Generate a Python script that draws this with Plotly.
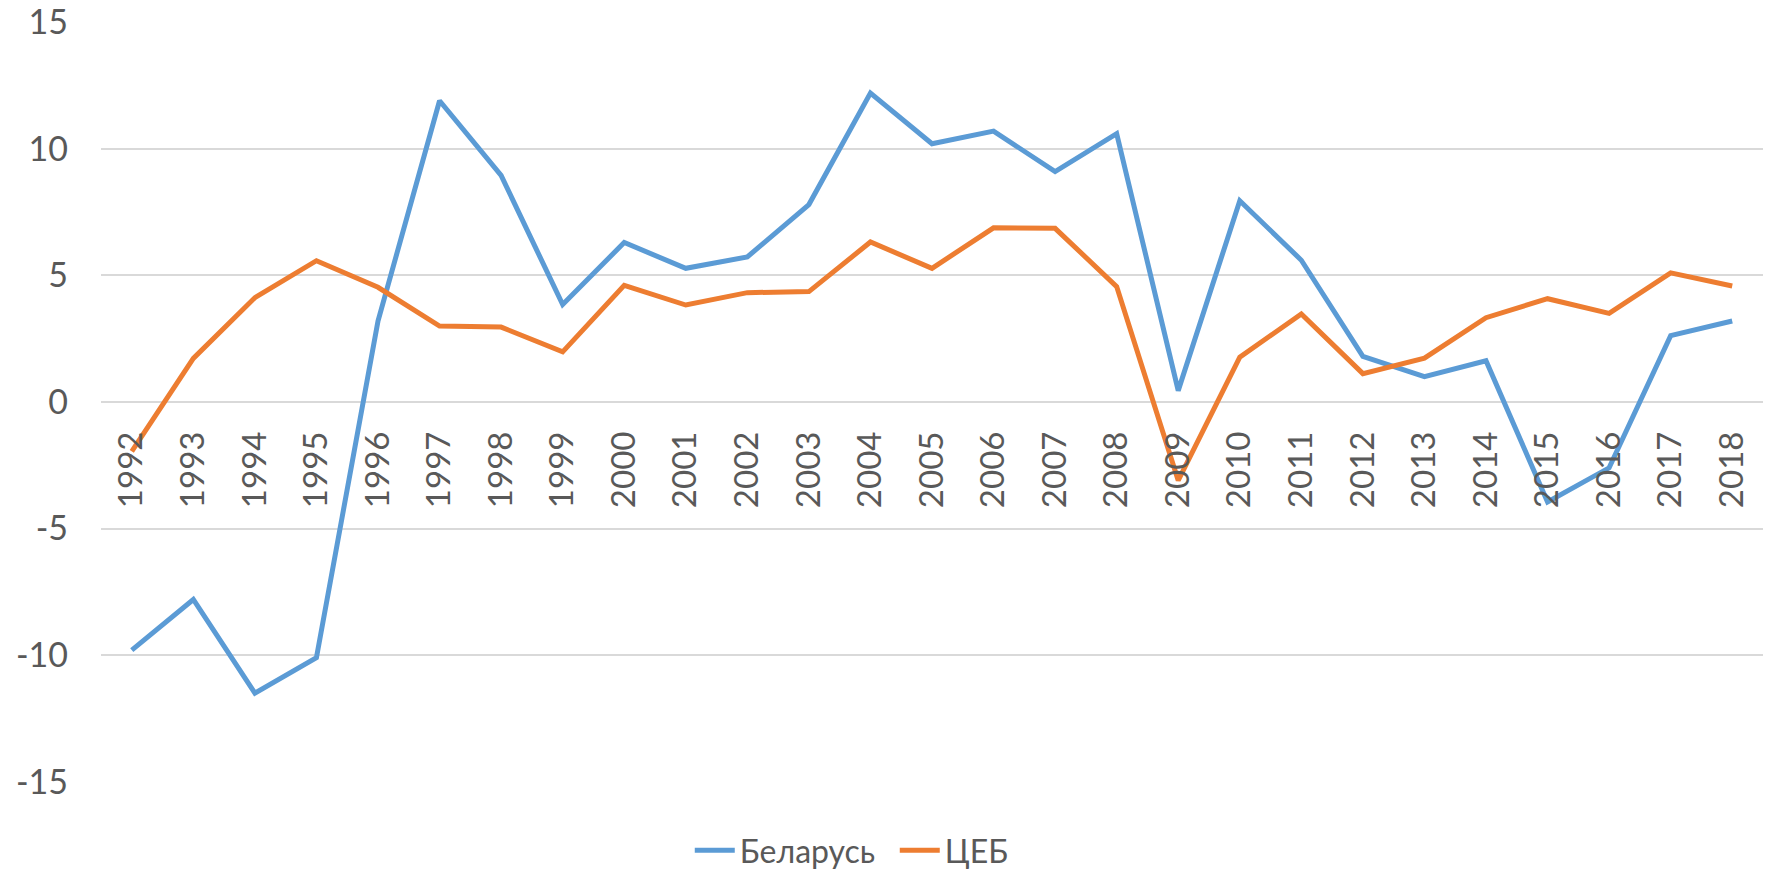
import plotly.graph_objects as go

years = [str(y) for y in range(1992, 2019)]
belarus = [-9.8, -7.8, -11.5, -10.1, 3.2, 11.9, 8.95, 3.85, 6.3, 5.28, 5.73, 7.8,
           12.2, 10.2, 10.7, 9.1, 10.6, 0.45, 7.95, 5.6, 1.8, 1.0, 1.63, -3.95, -2.6, 2.62, 3.2]
ceb = [-1.95, 1.72, 4.12, 5.58, 4.53, 3.0, 2.96, 1.98, 4.61, 3.83, 4.32, 4.36,
       6.32, 5.28, 6.88, 6.86, 4.56, -3.1, 1.77, 3.48, 1.12, 1.73, 3.33, 4.08, 3.5, 5.1, 4.58]

names = ["Беларусь", "ЦЕБ"]
colors = ["#5B9BD5", "#ED7D31"]
y_min, y_max = -15, 15
y_ticks = [-15, -10, -5, 0, 5, 10, 15]
y_ticktext = [str(v) for v in y_ticks]

FONT = "Lato, 'Noto Sans', sans-serif"
TXT = "#595959"
GRID = "#D9D9D9"

fig = go.Figure()
for name, vals, col in zip(names, [belarus, ceb], colors):
    fig.add_trace(go.Scatter(x=years, y=vals, name=name, mode="lines",
                             line=dict(color=col, width=5)))

fig.update_layout(
    width=1770, height=872,
    paper_bgcolor="white", plot_bgcolor="white",
    margin=dict(l=101, r=7, t=22, b=90, autoexpand=False),
    font=dict(family=FONT, size=34, color=TXT),
    showlegend=True,
    legend=dict(orientation="h", x=0.4776, xanchor="center", y=-0.09, yanchor="middle",
                font=dict(family=FONT, size=32, color=TXT), itemwidth=40,
                entrywidth=150, bgcolor="rgba(0,0,0,0)"),
    xaxis=dict(type="category", range=[-0.5, len(years) - 0.5],
               anchor="free", position=(0 - y_min) / (y_max - y_min),
               tickangle=-90, ticks="", showgrid=False, showline=False,
               zeroline=False, ticklabelstandoff=22,
               tickfont=dict(family=FONT, size=33, color=TXT)),
    yaxis=dict(range=[y_min - 0.01, y_max + 0.01], tickvals=y_ticks, ticktext=y_ticktext,
               showgrid=True, gridcolor=GRID, gridwidth=1.5,
               zeroline=True, zerolinecolor=GRID, zerolinewidth=1.5,
               showline=False, ticks="", ticklabelstandoff=32,
               tickfont=dict(family=FONT, size=34, color=TXT)),
)

fig.write_html("out.html", config={"displayModeBar": False},
               post_script="document.body.style.margin='0';document.body.style.overflow='hidden';")
